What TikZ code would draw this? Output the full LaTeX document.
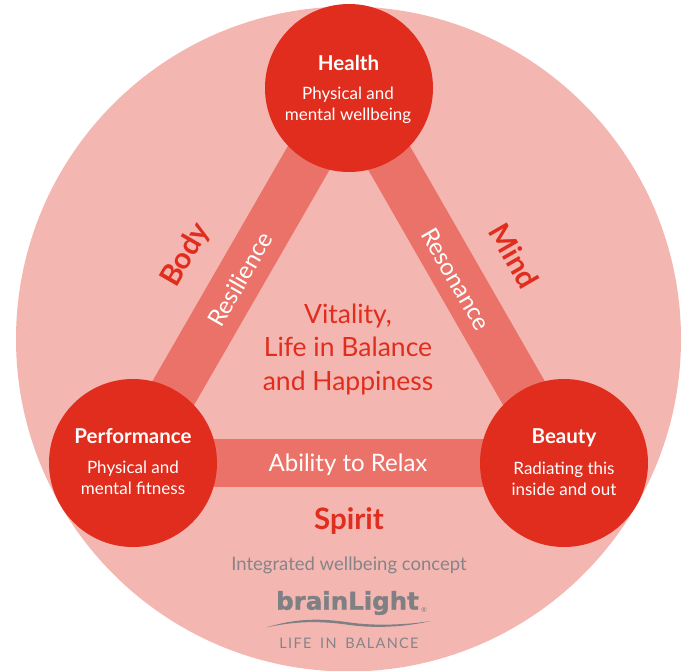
\documentclass[tikz,border=0pt]{standalone}
\usepackage{fontspec}
\usetikzlibrary{backgrounds}
\setmainfont{Lato}
\newfontfamily\logofont[BoldFeatures={FakeBold=1.3}]{DejaVu Sans}
\definecolor{bigpink}{HTML}{F4B6B1}
\definecolor{bandred}{HTML}{EB7268}
\definecolor{hubred}{HTML}{E02D1D}
\definecolor{logogray}{HTML}{7E8083}
\definecolor{txtgray}{HTML}{868488}
\tikzset{
  hub/.style={circle,fill=hubred,minimum size=168pt,inner sep=0pt},
  hubtitle/.style={text=white,font=\fontsize{20.5}{24}\selectfont\bfseries,inner sep=0pt},
  hubtext/.style={text=white,align=center,font=\fontsize{17}{21}\selectfont,inner sep=0pt},
  band/.style={draw=bandred,line width=48pt},
  bandlabel/.style={text=white,font=\fontsize{24}{28}\selectfont,inner sep=0pt},
  aspect/.style={text=hubred,font=\fontsize{29.5}{36}\selectfont\bfseries,inner sep=0pt},
}
\begin{document}
\begin{tikzpicture}[x=1pt,y=-1pt]
\useasboundingbox (0,0) rectangle (683,670);
\node[hub] (health) at (349,88) {};
\node[hub] (perf) at (133,463) {};
\node[hub] (beauty) at (564,463) {};
\begin{pgfonlayer}{background}
\fill[bigpink] (348.5,339) circle (332.5pt);
\draw[band] (health.center) -- (perf.center);
\draw[band] (health.center) -- (beauty.center);
\draw[band] (perf.center) -- (beauty.center);
\end{pgfonlayer}
\node[hubtitle] (healthtitle) at (348.5,62.5) {Health};
\node[hubtext] (healthtext) at (348,105.5) {Physical and\\mental wellbeing};
\node[hubtitle] (perftitle) at (133,436) {Performance};
\node[hubtext] (perftext) at (133,478) {Physical and\\mental fitness};
\node[hubtitle] (beautytitle) at (564,437.5) {Beauty};
\node[hubtext] (beautytext) at (564,479) {Radiating this\\inside and out};
\node[bandlabel,rotate=60] (resil) at (240,279) {Resilience};
\node[bandlabel,rotate=-60] (reson) at (456,279) {Resonance};
\node[bandlabel] (relax) at (348,465) {Ability to Relax};
\node[aspect,rotate=60] (body) at (186,255) {Body};
\node[aspect,rotate=-60] (mind) at (514.5,256) {Mind};
\node[aspect] (spirit) at (349,521) {Spirit};
\node[text=hubred,align=center,font=\fontsize{26.5}{33.5}\selectfont,inner sep=0pt] (vital) at (348,349.5) {Vitality,\\Life in Balance\\and Happiness};
\node[text=txtgray,font=\fontsize{18.5}{22}\selectfont,inner sep=0pt] (integ) at (349,565) {Integrated wellbeing concept};
\node[text=logogray,font=\fontsize{24.5}{30}\selectfont\logofont\bfseries,inner sep=0pt] (logo) at (347.5,603) {brainLight};
\node[text=logogray,font=\fontsize{7}{8}\selectfont,inner sep=0pt] (reg) at (424,609.5) {®};
\fill[logogray] (266,627.5) .. controls (300,617) and (325,619) .. (350,622.5) .. controls (375,626) and (405,625) .. (431,621) .. controls (405,627) and (375,628.5) .. (350,625) .. controls (325,621.5) and (300,620) .. (266,627.5) -- cycle;
\node[text=txtgray,font=\fontsize{14.5}{16}\selectfont\addfontfeatures{LetterSpace=9},inner sep=0pt] (tag) at (349,643) {LIFE\hspace{0.6em}IN\hspace{0.6em}BALANCE};
\end{tikzpicture}
\end{document}
